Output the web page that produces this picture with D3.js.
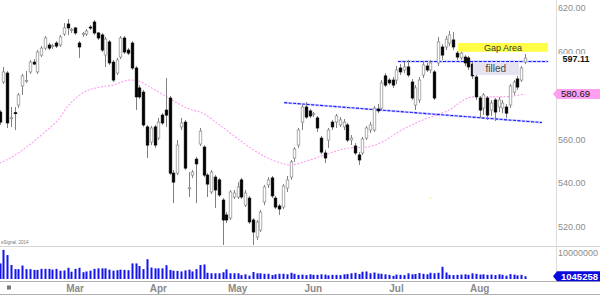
<!DOCTYPE html>
<html><head><meta charset="utf-8">
<script src="https://cdn.jsdelivr.net/npm/d3@7"></script>
<style>html,body{margin:0;padding:0;background:#fff;overflow:hidden}svg{display:block;font-family:"Liberation Sans",Arial,sans-serif}</style>
</head><body><svg id="c" width="600" height="295"></svg>
<script>
const open=[572.5,586.2,590.3,569.6,572.2,575.7,584.4,586.5,590.8,595.3,
590.8,598.5,601.7,603.1,602.4,604.0,603.1,608.1,612.7,609.8,
610.9,604.0,608.0,608.1,611.3,613.6,608.6,607.7,598.5,604.5,
595.3,590.3,597.6,606.3,600.8,604.0,592.6,583.5,581.6,565.7,
558.8,565.7,560.6,571.1,573.4,578.9,544.6,544.6,565.7,567.9,
537.6,543.7,551.0,557.9,556.5,543.7,536.0,542.8,541.5,532.3,
525.5,524.1,533.7,533.7,541.5,530.0,533.2,523.2,515.4,518.6,
531.4,539.2,542.4,533.2,529.6,529.1,537.8,542.8,551.5,557.4,
567.9,574.8,573.0,571.5,569.8,560.6,553.8,559.7,567.9,567.9,
566.6,565.7,566.6,559.7,557.0,552.9,553.8,560.6,564.3,564.3,
573.9,574.3,589.0,587.1,587.1,587.1,592.6,591.7,593.1,586.2,
575.7,578.0,589.4,593.5,591.7,590.8,594.9,602.2,602.2,604.0,
605.4,599.4,597.2,597.6,597.2,594.4,588.5,578.9,574.3,578.9,
573.4,578.0,574.8,574.3,574.8,575.7,581.6,587.6,587.1,595.3];
const high=[573.4,593.1,591.2,574.8,574.8,581.2,589.9,591.2,596.3,596.7,
600.8,602.6,607.2,604.0,603.6,604.9,607.7,613.1,615.0,610.9,
611.3,604.9,609.0,610.4,612.2,614.5,609.0,608.6,606.8,605.4,
596.3,597.2,607.2,607.2,601.7,604.9,593.5,584.8,582.6,566.6,
566.1,566.6,569.8,572.0,588.0,579.8,546.0,559.7,569.8,568.9,
545.1,546.0,552.0,565.2,557.4,544.6,546.0,543.7,542.4,533.2,
526.8,536.9,536.9,540.5,542.4,536.9,534.2,524.1,523.2,527.8,
539.2,542.8,543.3,534.2,530.5,539.6,543.3,550.6,556.5,565.2,
575.7,577.1,573.9,572.5,570.7,561.6,555.2,565.2,568.9,571.6,
570.2,569.3,567.5,562.0,558.3,554.2,561.1,566.1,567.9,575.2,
576.2,587.1,590.3,588.0,588.5,593.5,594.4,595.3,596.3,587.6,
584.8,588.5,595.3,594.9,596.3,591.7,606.8,603.6,607.2,609.5,
609.0,600.4,600.4,598.5,598.1,595.3,589.4,579.8,581.2,579.8,
578.0,578.9,579.4,578.0,576.2,585.3,587.1,589.0,593.5,599.0];
const low=[566.6,585.3,565.2,565.7,564.3,574.3,580.3,585.8,589.9,594.0,
589.9,597.6,600.8,600.8,601.3,601.7,602.2,607.2,607.7,608.6,
607.7,597.2,606.8,607.2,610.0,607.7,605.4,599.9,593.1,594.0,
586.2,589.4,596.7,599.0,598.5,591.7,573.4,578.4,565.7,551.5,
557.4,556.1,559.7,566.6,565.7,543.7,530.9,543.7,564.3,546.0,
533.7,542.4,530.9,557.0,542.8,533.7,535.1,528.7,533.7,511.8,
521.8,523.2,532.8,532.8,532.8,529.1,521.4,511.8,514.1,517.7,
530.0,537.8,533.2,528.2,525.5,528.2,536.0,541.5,549.7,556.1,
564.3,569.3,569.8,570.2,563.4,553.3,549.2,556.1,564.3,565.2,
565.7,564.3,558.8,557.4,552.9,548.3,552.9,559.7,562.9,563.4,
572.0,573.4,583.9,584.8,583.5,585.3,589.4,590.3,588.5,578.0,
573.4,576.6,588.0,590.8,590.3,578.0,593.5,596.3,600.8,602.6,
600.8,596.3,596.3,593.5,591.7,587.6,578.0,569.8,571.1,568.9,
570.7,568.4,572.5,572.0,569.8,574.3,580.3,582.6,586.2,594.4];
const close=[567.9,590.8,567.5,569.9,571.8,580.3,589.0,586.9,595.3,594.4,
599.9,601.7,606.3,601.7,602.8,602.6,606.8,610.9,610.9,610.2,
608.6,602.2,608.3,609.5,610.9,608.6,606.3,600.8,605.8,594.9,
587.1,596.3,606.3,599.9,599.4,592.6,579.4,579.4,566.6,557.4,
565.2,557.4,567.9,567.5,571.1,544.6,540.5,557.4,567.5,546.9,
537.9,545.1,548.8,563.8,543.7,539.6,545.1,536.9,534.6,523.2,
523.2,536.0,535.5,538.3,533.7,535.5,522.3,517.7,522.3,526.8,
538.3,541.5,534.2,529.1,528.2,538.7,541.5,549.7,555.6,564.3,
574.8,570.2,570.7,571.7,565.2,554.2,551.5,564.3,565.7,570.7,
568.9,567.9,559.7,560.6,553.8,550.6,560.2,565.2,566.6,574.3,
573.0,585.8,584.8,585.8,584.8,591.7,590.8,593.1,589.4,578.9,
583.5,587.1,594.0,591.7,594.9,578.9,604.5,598.5,605.8,607.7,
602.2,597.6,599.4,594.9,593.1,589.0,579.4,573.4,580.3,571.1,
576.6,572.5,578.0,576.6,572.0,584.4,586.2,583.9,592.6,597.11];
// volume in millions of shares
const volumeMillions=[6.0,11.2,9.2,5.4,3.8,3.8,5.2,3.8,3.8,3.5,
3.5,3.9,3.9,3.9,3.6,3.9,3.2,3.3,4.3,2.8,
3.9,4.3,2.6,2.9,3.2,3.9,4.1,4.1,4.1,3.6,
3.2,3.4,3.6,3.5,3.4,6.0,6.0,5.0,3.8,7.6,
4.4,4.1,4.1,4.1,5.3,3.5,3.2,3.1,2.9,3.3,
3.6,2.9,3.8,5.4,5.6,2.4,2.2,2.2,2.2,2.6,
3.7,2.2,2.2,2.2,1.5,1.8,1.3,2.7,2.2,2.2,
2.0,2.0,1.5,1.8,2.0,2.0,1.8,2.4,2.0,1.6,
1.7,1.5,1.8,1.6,1.6,1.8,1.7,1.4,1.6,1.6,
1.5,1.8,1.9,2.2,2.4,1.9,2.8,2.9,2.2,2.5,
2.1,2.0,1.8,1.6,1.2,1.7,1.6,1.5,2.2,1.8,
1.9,2.3,2.0,1.8,2.4,2.2,2.4,4.7,2.5,1.6,
1.5,1.6,1.7,1.8,1.6,2.2,2.0,1.7,1.8,1.6,
1.7,1.5,1.8,1.6,1.3,1.9,1.7,1.4,1.6,1.045258];
// moving average readings: [bar index, value]
const maIdx=[0,2.8,12.6,15.5,17.9,22,26.6,30,34.5,36.6,39.8,44.3,49.6,53.6,58.9,64.2,69.4,75.3,76.8,82.1,88.2,92.7,97.2,100.7,105.9,112,118.4,125.2,132.4,139];
const maVal=[549.1,551.5,564.3,568.9,574.8,581.2,583.9,584.8,587.1,586.7,583.9,579.4,574.3,572.0,565.7,558.8,552.9,548.8,548.3,550.6,554.2,556.1,556.5,558.4,563.8,568.9,573.0,579.4,579.4,580.69];
const monthLabels=["Mar","Apr","May","Jun","Jul","Aug"];
const monthIdx=[20,42,63,83,105,127];
// 580.00 lies under the moving-average tag in the reference, so it is not shown
const priceTicks=[620,600,560,540,520];
const volTicks=[10000000];
// annotations (bar index, price)
const trendDown=[[75.3,576.8],[143.5,567.7]];
const resistance=[[105.4,595.6],[145.1,595.6]];
const gapBox={i0:121.3,i1:145.1,p0:600.0,p1:604.0,text:"Gap Area"};
const filledBox={i0:125.2,i1:137.4,p0:589.4,p1:594.9,text:"filled"};

const volume=volumeMillions.map(v=>v*1e6);
const svg=d3.select("#c");
const n=close.length;
const x=d3.scaleLinear().domain([0,139]).range([-0.5,525]);
const y=d3.scaleLinear().domain([520,620]).range([227,8]);
const vy=d3.scaleLinear().domain([0,10000000]).range([279,253]);
const idx=d3.range(n);

const defs=svg.append("defs");
defs.append("clipPath").attr("id","pc").append("rect").attr("x",0).attr("y",0).attr("width",556).attr("height",246);
defs.append("clipPath").attr("id","vc").append("rect").attr("x",0).attr("y",247).attr("width",556).attr("height",34);

svg.append("line").attr("x1",0).attr("x2",600).attr("y1",246.5).attr("y2",246.5).attr("stroke","#d4d4d4");
svg.append("line").attr("x1",0).attr("x2",600).attr("y1",281.5).attr("y2",281.5).attr("stroke","#b0b0b0");
svg.append("line").attr("x1",0).attr("x2",600).attr("y1",294.5).attr("y2",294.5).attr("stroke","#b0b0b0");
svg.append("line").attr("x1",556.5).attr("x2",556.5).attr("y1",0).attr("y2",281).attr("stroke","#dcdcdc");

const pg=svg.append("g").attr("clip-path","url(#pc)");

pg.append("path").datum(maIdx.map((d,i)=>[d,maVal[i]]))
 .attr("d",d3.line().x(d=>x(d[0])).y(d=>y(d[1])).curve(d3.curveMonotoneX))
 .attr("fill","none").attr("stroke","#ff9cf2").attr("stroke-width",1.1).attr("stroke-dasharray","2,1.5");

[trendDown,resistance].forEach(l=>{
 pg.append("path").datum(l).attr("d",d3.line().x(d=>x(d[0])).y(d=>y(d[1])))
  .attr("stroke","#8080ff").attr("stroke-opacity",0.35).attr("stroke-width",2.4).attr("fill","none");
 pg.append("path").datum(l).attr("d",d3.line().x(d=>x(d[0])).y(d=>y(d[1])))
  .attr("stroke","#1a1aff").attr("stroke-width",1.1).attr("stroke-dasharray","3,1.5").attr("fill","none");
});

const bw=2.6;
const cg=pg.append("g");
cg.selectAll("line.w").data(idx).join("line").attr("class","w")
 .attr("x1",i=>Math.round(x(i))+0.5).attr("x2",i=>Math.round(x(i))+0.5)
 .attr("y1",i=>y(high[i])).attr("y2",i=>y(low[i])).attr("stroke","#808080").attr("stroke-width",1);
cg.selectAll("rect.b").data(idx).join("rect").attr("class","b")
 .attr("x",i=>Math.round(x(i))+0.5-bw/2)
 .attr("y",i=>y(Math.max(open[i],close[i])))
 .attr("width",bw)
 .attr("height",i=>Math.max(1,Math.abs(y(open[i])-y(close[i]))))
 .attr("fill",i=>close[i]>=open[i]?"#fff":"#000")
 .attr("stroke",i=>close[i]>=open[i]?"#8a8a8a":"#000").attr("stroke-width",0.7);

function box(b,fill,col,fs){
 const g=pg.append("g");
 g.append("rect").attr("x",x(b.i0)).attr("y",y(b.p1)).attr("width",x(b.i1)-x(b.i0)).attr("height",y(b.p0)-y(b.p1)).attr("fill",fill);
 g.append("text").attr("x",(x(b.i0)+x(b.i1))/2).attr("y",(y(b.p0)+y(b.p1))/2).attr("dy","0.35em")
  .attr("text-anchor","middle").attr("font-size",fs).attr("fill",col).text(b.text);
}
box(gapBox,"#ffff45","#333",9);
box(filledBox,"#e6e3ee","#444",10);
pg.append("line").attr("x1",x(114)-1.5).attr("x2",x(114)+1.5).attr("y1",y(533.2)).attr("y2",y(533.2)).attr("stroke","#ffff50").attr("stroke-width",1);

pg.append("text").attr("x",1).attr("y",244).attr("font-size",4.5).attr("fill","#777").text("eSignal, 2014");

svg.append("g").attr("clip-path","url(#vc)").selectAll("rect").data(idx).join("rect")
 .attr("x",i=>Math.round(x(i))-0.5).attr("width",2)
 .attr("y",i=>vy(volume[i])).attr("height",i=>vy(0)-vy(volume[i])).attr("fill","#1414ee");

svg.append("g").selectAll("text").data(priceTicks).join("text")
 .attr("x",558).attr("y",d=>y(d)).attr("dy","0.35em").attr("font-size",9).attr("fill","#8c8c8c")
 .text(d=>d3.format(".2f")(d));
svg.append("g").selectAll("text").data(volTicks).join("text")
 .attr("x",558).attr("y",d=>vy(d)).attr("dy","0.35em").attr("font-size",9).attr("fill","#8c8c8c").text(d=>d);

const lc=close[n-1];
svg.append("rect").attr("x",558).attr("y",y(lc)-4).attr("width",42).attr("height",9).attr("fill","#fff");
svg.append("text").attr("x",562.5).attr("y",y(lc)+0.5).attr("dy","0.35em").attr("font-size",9).attr("font-weight","bold").attr("fill","#111").text(lc.toFixed(2));

function tag(yy,fill,col,txt,bold){
 svg.append("path").attr("d",`M553,${yy} L557,${yy-5} L600,${yy-5} L600,${yy+5} L557,${yy+5} Z`).attr("fill",fill);
 svg.append("text").attr("x",561).attr("y",yy).attr("dy","0.35em").attr("font-size",9.5).attr("font-weight",bold?"bold":"normal").attr("fill",col).text(txt);
}
const lastMA=maVal[maVal.length-1];
tag(y(lastMA),"#ff9ff0","#111",lastMA.toFixed(2),false);
const lastV=volume[n-1];
tag(vy(lastV),"#0a0ae0","#fff",d3.format("d")(Math.round(lastV)),true);

svg.append("g").selectAll("text").data(monthLabels).join("text")
 .attr("x",(d,i)=>x(monthIdx[i])).attr("y",292).attr("text-anchor","middle")
 .attr("font-size",10).attr("font-weight","bold").attr("fill","#8a8a8a").text(d=>d);
svg.append("rect").attr("x",7).attr("y",285.5).attr("width",4).attr("height",4).attr("fill","#777");
</script></body></html>
